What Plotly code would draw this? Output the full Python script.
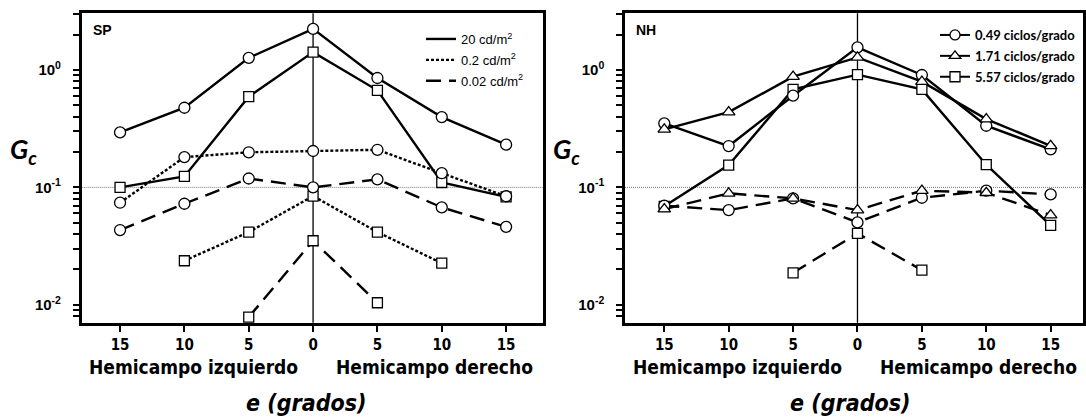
import plotly.graph_objects as go

# ---------------- data ----------------
ecc = [-15, -10, -5, 0, 5, 10, 15]
ecc_labels = ["15", "10", "5", "0", "5", "10", "15"]

# Panel SP (luminance levels); circles and squares
sp_20_circ = [0.294, 0.477, 1.27, 2.24, 0.855, 0.397, 0.231]
sp_20_sq = [0.100, 0.124, 0.593, 1.42, 0.671, 0.110, 0.083]
sp_02_circ = [0.074, 0.181, 0.199, 0.204, 0.209, 0.132, 0.084]
sp_02_sq = [None, 0.0237, 0.0416, 0.0843, 0.0416, 0.0226, None]
sp_002_circ = [0.0433, 0.0725, 0.119, 0.100, 0.117, 0.0675, 0.0461]
sp_002_sq = [None, None, 0.00785, 0.0351, 0.0104, None, None]

# Panel NH (spatial frequencies); solid and dashed
nh_049_solid = [0.351, 0.225, 0.604, 1.56, 0.906, 0.335, 0.211]
nh_171_solid = [0.312, 0.438, 0.877, 1.28, 0.795, 0.382, 0.226]
nh_557_solid = [0.069, 0.155, 0.684, 0.912, 0.684, 0.156, 0.0474]
nh_049_dash = [0.0697, 0.064, 0.0806, 0.0503, 0.0816, 0.0937, 0.0871]
nh_171_dash = [0.0653, 0.0889, 0.0806, 0.064, 0.0937, 0.090, 0.058]
nh_557_dash = [None, None, 0.0187, 0.0405, 0.0197, None, None]

sp_legend = ["20 cd/m<sup>2</sup>", "0.2 cd/m<sup>2</sup>", "0.02 cd/m<sup>2</sup>"]
nh_legend = ["0.49 ciclos/grado", "1.71 ciclos/grado", "5.57 ciclos/grado"]

y_major_vals = [0.01, 0.1, 1]
y_major_text = ["10<sup>-2</sup>", "10<sup>-1</sup>", "10<sup>0</sup>"]
y_minor_vals = [m * 10.0 ** e for e in (-3, -2, -1, 0) for m in range(2, 10)]
y_tickvals = y_major_vals + y_minor_vals
y_ticktext = y_major_text + [""] * len(y_minor_vals)

# ---------------- layout helpers ----------------
W, H = 1086, 419
def px(p):
    return p / W
def py(p):
    return 1 - p / H

DOT = "3px,2px"
DASH = "15px,8px"
YRANGE = [-2.153, 0.483]
YDOMAIN = [py(322.7), py(13.3)]

fig = go.Figure()

def add_series(y, xa, ya, dash, symbol, size, width=2.4):
    fig.add_trace(go.Scatter(x=ecc, y=y, xaxis=xa, yaxis=ya, mode="lines",
                             line=dict(color="black", width=width, dash=dash),
                             showlegend=False, hoverinfo="skip"))
    return dict(y=y, xa=xa, ya=ya, symbol=symbol, size=size)

markers = []
# SP panel
markers.append(add_series(sp_20_sq, "x", "y", "solid", "square", 10))
markers.append(add_series(sp_02_sq, "x", "y", DOT, "square", 10))
markers.append(add_series(sp_002_sq, "x", "y", DASH, "square", 10))
markers.append(add_series(sp_20_circ, "x", "y", "solid", "circle", 11))
markers.append(add_series(sp_02_circ, "x", "y", DOT, "circle", 11))
markers.append(add_series(sp_002_circ, "x", "y", DASH, "circle", 11))
# NH panel
markers.append(add_series(nh_557_solid, "x2", "y2", "solid", "square", 10))
markers.append(add_series(nh_557_dash, "x2", "y2", DASH, "square", 10))
markers.append(add_series(nh_049_solid, "x2", "y2", "solid", "circle", 11))
markers.append(add_series(nh_049_dash, "x2", "y2", DASH, "circle", 11))
markers.append(add_series(nh_171_solid, "x2", "y2", "solid", "triangle-up", 11))
markers.append(add_series(nh_171_dash, "x2", "y2", DASH, "triangle-up", 11))

for m in markers:
    fig.add_trace(go.Scatter(x=ecc, y=m["y"], xaxis=m["xa"], yaxis=m["ya"], mode="markers",
                             marker=dict(symbol=m["symbol"], size=m["size"], color="white",
                                         line=dict(color="black", width=1.3)),
                             showlegend=False, hoverinfo="skip", cliponaxis=False))

# legend entries
for name, dash, g in zip(sp_legend, ["solid", DOT, DASH], ["a", "b", "c"]):
    fig.add_trace(go.Scatter(x=[None], y=[None], xaxis="x", yaxis="y", mode="lines",
                             name=name, legend="legend", legendgroup="sp" + g,
                             line=dict(color="black", width=2.4, dash=dash)))
for name, sym, g in zip(nh_legend, ["circle", "triangle-up", "square"], ["a", "b", "c"]):
    fig.add_trace(go.Scatter(x=[None], y=[None], xaxis="x2", yaxis="y2", mode="lines+markers",
                             name=name, legend="legend2", legendgroup="nh" + g,
                             line=dict(color="black", width=2),
                             marker=dict(symbol=sym, size=10, color="white",
                                         line=dict(color="black", width=1.3))))

tickfont_x = dict(family="DejaVu Sans Condensed", size=15, color="black", weight="bold")
tickfont_y = dict(family="Liberation Sans", size=15, color="black", weight="bold")

def xaxis(domain, rng):
    return dict(domain=domain, range=rng, tickmode="array", tickvals=ecc, ticktext=ecc_labels,
                ticks="outside", ticklen=7, tickwidth=2, tickcolor="black",
                showline=True, linewidth=2.5, linecolor="black", mirror=True,
                showgrid=False, zeroline=False, tickfont=tickfont_x, fixedrange=True)

def yaxis(anchor):
    return dict(type="log", domain=YDOMAIN, range=YRANGE, anchor=anchor,
                tickmode="array", tickvals=y_tickvals, ticktext=y_ticktext,
                ticks="outside", ticklen=6, tickwidth=2, tickcolor="black",
                ticklabelstandoff=9,
                showline=True, linewidth=2.5, linecolor="black", mirror=True,
                showgrid=False, zeroline=False, tickfont=tickfont_y, fixedrange=True)

ann = []
for xa, panel in (("x", "SP"), ("x2", "NH")):
    ann.append(dict(text="<b>%s</b>" % panel, xref=xa + " domain", yref="paper", x=0.02, y=py(30),
                    xanchor="left", yanchor="middle", showarrow=False,
                    font=dict(family="Liberation Sans", size=14, color="black")))
    ann.append(dict(text="Hemicampo izquierdo", xref=xa, yref="paper", x=-9.3, y=py(367),
                    xanchor="center", yanchor="middle", showarrow=False,
                    font=dict(family="DejaVu Sans Condensed", size=19, color="black", weight="bold")))
    ann.append(dict(text="Hemicampo derecho", xref=xa, yref="paper", x=9.4, y=py(367),
                    xanchor="center", yanchor="middle", showarrow=False,
                    font=dict(family="DejaVu Sans Condensed", size=19, color="black", weight="bold")))
    ann.append(dict(text="<i>e (grados)</i>", xref=xa, yref="paper", x=-0.55, y=py(403),
                    xanchor="center", yanchor="middle", showarrow=False,
                    font=dict(family="DejaVu Sans Condensed", size=23, color="black", weight="bold")))
for xc in (23, 566):
    ann.append(dict(text="<b><i>G<sub>c</sub></i></b>", xref="paper", yref="paper", x=px(xc), y=py(150),
                    xanchor="center", yanchor="middle", showarrow=False,
                    font=dict(family="Lato", size=27, color="black")))

shapes = []
for xa, ya in (("x", "y"), ("x2", "y2")):
    shapes.append(dict(type="line", xref=xa + " domain", yref=ya, x0=0, x1=1, y0=0.1, y1=0.1,
                       line=dict(color="#777777", width=1, dash="1px,1px"), layer="below"))
    shapes.append(dict(type="line", xref=xa, yref=ya + " domain", x0=0, x1=0, y0=0, y1=1,
                       line=dict(color="black", width=1.3), layer="below"))

fig.update_layout(
    width=W, height=H, margin=dict(l=0, r=0, t=0, b=0),
    paper_bgcolor="white", plot_bgcolor="white",
    xaxis=xaxis([px(81.7), px(543.3)], [-17.98, 17.89]),
    yaxis=yaxis("x"),
    xaxis2=xaxis([px(625), px(1083)], [-18.05, 17.51]),
    yaxis2=yaxis("x2"),
    annotations=ann, shapes=shapes,
    legend=dict(x=px(421), y=py(24), xanchor="left", yanchor="top", bgcolor="rgba(0,0,0,0)",
                font=dict(family="Liberation Sans", size=13, color="black"),
                tracegroupgap=1, traceorder="grouped"),
    legend2=dict(x=px(935), y=py(20), xanchor="left", yanchor="top", bgcolor="rgba(0,0,0,0)",
                 font=dict(family="Lato", size=13, color="black", weight="bold"),
                 tracegroupgap=1, traceorder="grouped"),
    showlegend=True,
)

fig.write_html("out.html")
